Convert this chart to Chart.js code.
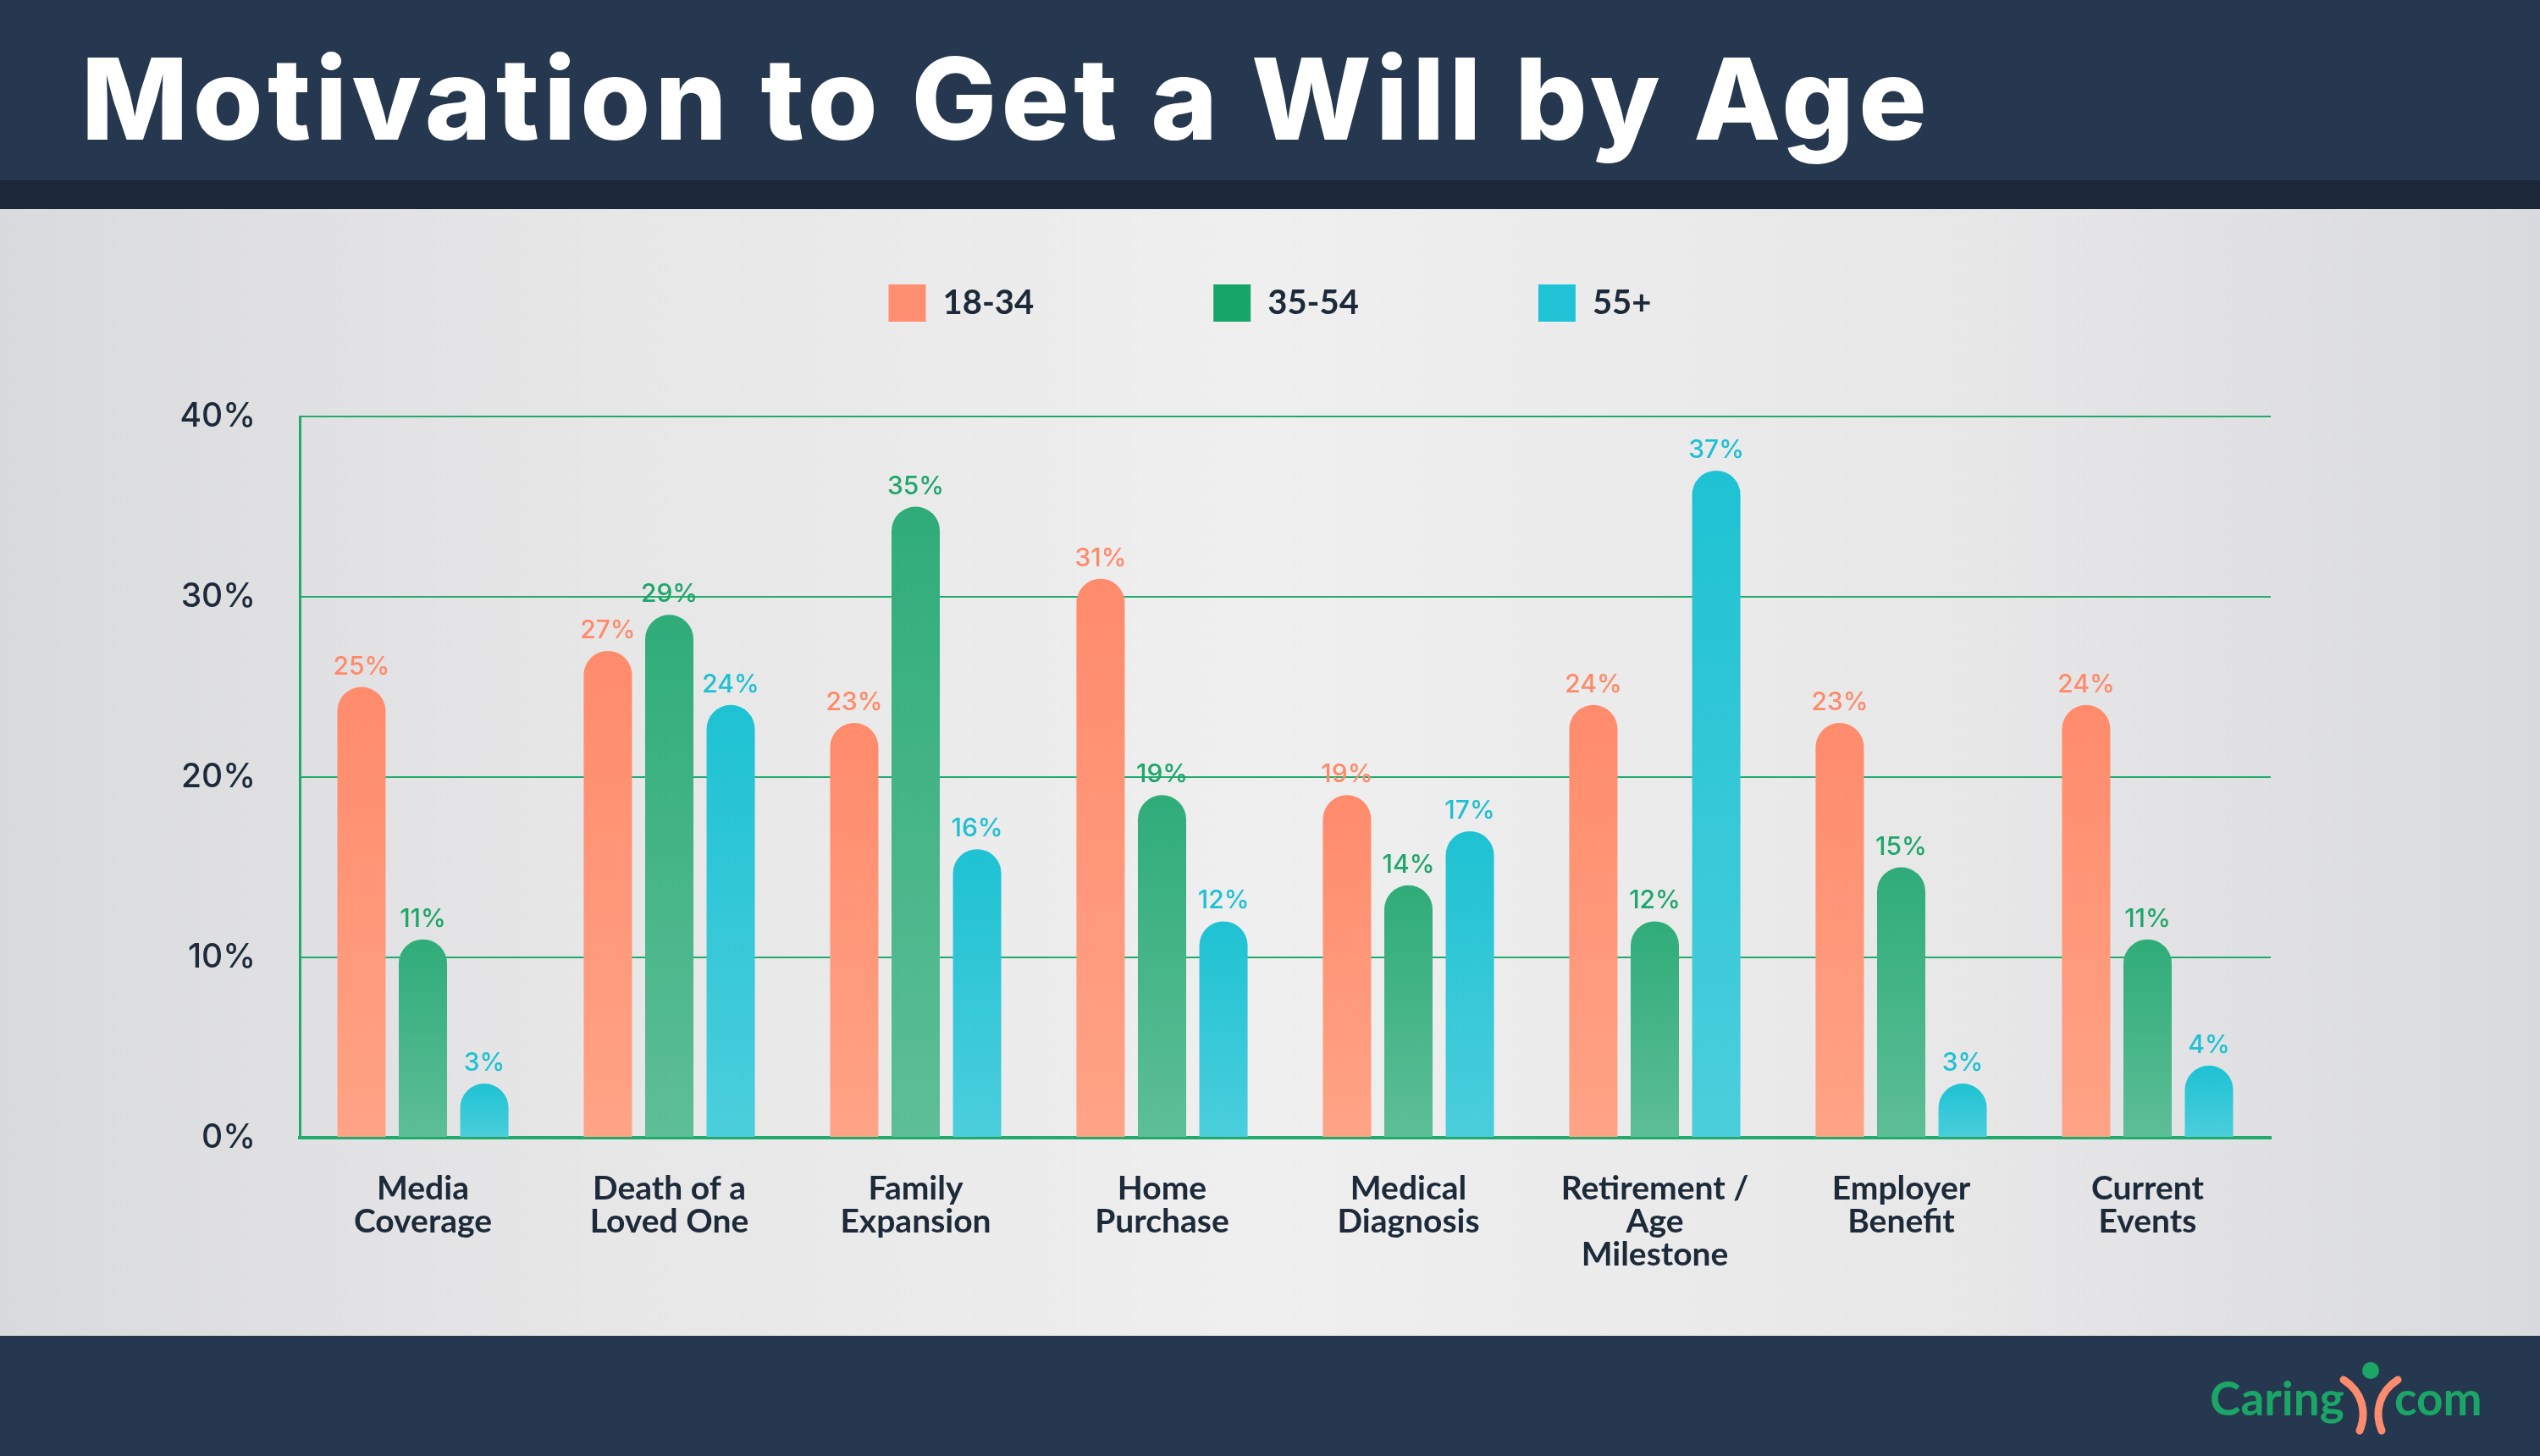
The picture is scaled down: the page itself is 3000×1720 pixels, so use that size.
<!DOCTYPE html>
<html>
<head>
<meta charset="utf-8">
<script src="https://cdn.jsdelivr.net/npm/chart.js@4.4.1/dist/chart.umd.min.js"></script>
<style>
  html, body { margin: 0; padding: 0; }
  body { width: 3000px; height: 1720px; position: relative; overflow: hidden; background: #243850; }
  #header { position: absolute; left: 0; top: 0; width: 3000px; height: 213px; background: #25384f; }
  #stripe { position: absolute; left: 0; top: 213px; width: 3000px; height: 34px; background: #1b2837; }
  #panel { position: absolute; left: 0; top: 247px; width: 3000px; height: 1331px;
    background: linear-gradient(90deg, #d9dadd 0%, #e6e6e7 22%, #efefef 50%, #e7e7e8 78%, #d9dadd 100%); }
  #footer { position: absolute; left: 0; top: 1578px; width: 3000px; height: 142px; background: #25384f; }
  #title { position: absolute; left: 96px; top: 49px; font-family: Inter, "Open Sans", sans-serif; font-weight: 800;
    font-size: 134px; color: #ffffff; white-space: nowrap; line-height: 1; }
  #wrap { position: absolute; left: 0; top: 0; width: 3000px; height: 1578px; }
  #logo { position: absolute; left: 2610px; top: 1608px; height: 90px; font-family: Lato, "Noto Sans", sans-serif;
    font-weight: 700; font-size: 55px; color: #1ba566; white-space: nowrap; }
  #logo span { position: absolute; top: 10px; }
  #logo svg { position: absolute; left: 150px; top: 0; }
</style>
</head>
<body>
<div id="header"></div>
<div id="stripe"></div>
<div id="panel"></div>
<div id="footer"></div>
<div id="title">Motivation to Get a Will by Age</div>
<div id="wrap"><canvas id="chart" width="3000" height="1578"></canvas></div>
<div id="logo">
  <span style="left:0">Caring</span>
  <svg width="80" height="90" viewBox="0 0 80 90">
    <path d="M8 22 C 30 36, 36 60, 27 82" stroke="#fd8b6d" stroke-width="9" fill="none" stroke-linecap="round"/>
    <path d="M72 22 C 50 36, 44 60, 53 82" stroke="#fd8b6d" stroke-width="9" fill="none" stroke-linecap="round"/>
    <circle cx="40" cy="11" r="10" fill="#1ba566"/>
  </svg>
  <span style="left:218px">com</span>
</div>

<script>
const categories = [
  ['Media', 'Coverage'],
  ['Death of a', 'Loved One'],
  ['Family', 'Expansion'],
  ['Home', 'Purchase'],
  ['Medical', 'Diagnosis'],
  ['Retirement /', 'Age', 'Milestone'],
  ['Employer', 'Benefit'],
  ['Current', 'Events']
];
const seriesNames = ['18-34', '35-54', '55+'];
const age18to34 = [25, 27, 23, 31, 19, 24, 23, 24];
const age35to54 = [11, 29, 35, 19, 14, 12, 15, 11];
const age55plus = [3, 24, 16, 12, 17, 37, 3, 4];
const yTicks = [0, 10, 20, 30, 40];

// top / bottom colour of each bar gradient, plus label colour
const palette = [
  { top: '#ff8b6b', bottom: '#ffa386', label: '#ff8a6a', legend: '#ff8f70' },
  { top: '#2fac79', bottom: '#5dbe97', label: '#1ea66b', legend: '#18a56a' },
  { top: '#1ec2d3', bottom: '#4bcedc', label: '#1fc0d3', legend: '#20c3d5' }
];

const darkText = '#1c2a39';
const gridGreen = '#22aa6c';

// fit the title to the width it has in the picture
(function () {
  const t = document.getElementById('title');
  const target = 2185;
  const w = t.getBoundingClientRect().width;
  const n = t.textContent.length;
  t.style.letterSpacing = ((target - w) / n) + 'px';
})();

function barGradient(i) {
  return function (context) {
    const chart = context.chart;
    const area = chart.chartArea;
    if (!area || context.raw === undefined) return palette[i].top;
    const y = chart.scales.y;
    const top = y.getPixelForValue(context.raw);
    const bottom = y.getPixelForValue(0);
    const g = chart.ctx.createLinearGradient(0, top, 0, bottom);
    g.addColorStop(0, palette[i].top);
    g.addColorStop(1, palette[i].bottom);
    return g;
  };
}

const valueLabels = {
  id: 'valueLabels',
  afterDatasetsDraw(chart) {
    const ctx = chart.ctx;
    ctx.save();
    ctx.font = '500 30px Inter, sans-serif';
    ctx.textAlign = 'center';
    ctx.textBaseline = 'alphabetic';
    chart.data.datasets.forEach((ds, i) => {
      const meta = chart.getDatasetMeta(i);
      ctx.fillStyle = palette[i].label;
      meta.data.forEach((bar, j) => {
        ctx.fillText(ds.data[j] + '%', bar.x, bar.y - 15);
      });
    });
    ctx.restore();
  }
};

// legend sits high above the plot and is centred on the plot, not the canvas
const legendPlace = {
  id: 'legendPlace',
  beforeInit(chart) {
    const fit = chart.legend.fit;
    chart.legend.fit = function () {
      fit.bind(chart.legend)();
      this.height = 368;
    };
  },
  afterLayout(chart) {
    chart.legend.left = 318;
    chart.legend.right = 2682;
    chart.legend.width = 2682 - 318;
  }
};

const data = {
  labels: categories,
  datasets: [age18to34, age35to54, age55plus].map((vals, i) => ({
    label: seriesNames[i],
    data: vals,
    backgroundColor: barGradient(i),
    borderWidth: 0,
    borderRadius: { topLeft: 29, topRight: 29, bottomLeft: 0, bottomRight: 0 },
    borderSkipped: 'bottom',
    categoryPercentage: 0.748,
    barPercentage: 0.786
  }))
};

new Chart(document.getElementById('chart'), {
  type: 'bar',
  data,
  options: {
    responsive: false,
    animation: false,
    layout: { padding: { left: 150, right: 318, top: 124, bottom: 0 } },
    plugins: {
      tooltip: { enabled: false },
      legend: {
        position: 'top',
        labels: {
          boxWidth: 44,
          boxHeight: 44,
          padding: 212,
          color: darkText,
          font: { family: 'Lato', size: 40, weight: '700' },
          generateLabels(chart) {
            return chart.data.datasets.map((ds, i) => ({
              text: ds.label,
              fillStyle: palette[i].legend,
              strokeStyle: palette[i].legend,
              lineWidth: 0,
              fontColor: darkText,
              datasetIndex: i
            }));
          }
        }
      }
    },
    scales: {
      x: {
        grid: { display: false, drawTicks: false },
        border: { display: true, color: gridGreen, width: 4 },
        ticks: {
          padding: 41,
          color: darkText,
          font: { family: 'Lato', size: 39, weight: '700', lineHeight: 1.0 }
        },
        afterFit(scale) { scale.height = 234; }
      },
      y: {
        min: 0,
        max: 40,
        afterBuildTicks(scale) { scale.ticks = yTicks.map(v => ({ value: v })); },
        grid: { color: gridGreen, lineWidth: 2, drawTicks: false },
        border: { display: true, color: gridGreen, width: 3 },
        ticks: {
          padding: 52,
          color: darkText,
          font: { family: 'Inter', size: 39, weight: '500' },
          callback: v => v + '%'
        },
        afterFit(scale) { scale.width = 204; }
      }
    }
  },
  plugins: [valueLabels, legendPlace]
});
</script>
</body>
</html>
